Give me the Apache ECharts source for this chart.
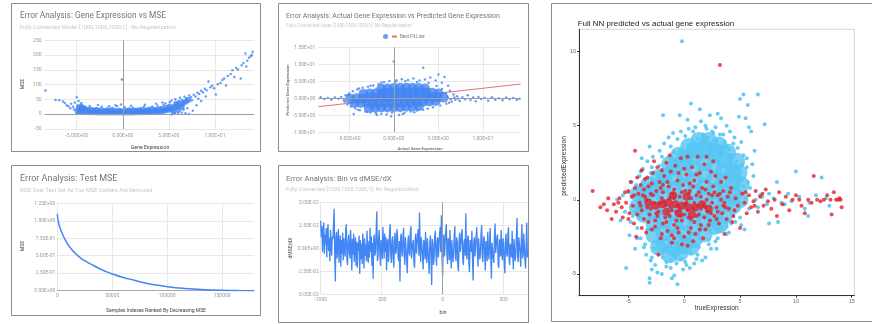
<!DOCTYPE html>
<html>
<head>
<meta charset="utf-8">
<script src="https://cdn.jsdelivr.net/npm/echarts@6/dist/echarts.min.js"></script>
<style>
html, body { margin: 0; padding: 0; background: #fff; }
#main { width: 872px; height: 324px; }
</style>
</head>
<body>
<div id="main"></div>
<script>
var myChart = echarts.init(document.getElementById('main'));

// panel 1: gene expression vs MSE (dense band + scattered points)
var p1Core = [[-4.9,10],[-4.6,9],[-4.3,8],[-4.0,8],[-3.7,7],[-3.4,7],[-3.1,7],[-2.8,6],[-2.5,6],[-2.2,6],[-1.9,6],[-1.6,6],[-1.3,6],[-1.0,6],[-0.7,6],[-0.4,6],[-0.1,6],[0.2,6],[0.5,6],[0.8,6],[1.1,6],[1.4,7],[1.7,7],[2.0,7],[2.3,7],[2.6,8],[2.9,8],[3.2,8],[3.5,9],[3.8,9],[4.1,10],[4.4,11],[4.7,13],[5.0,15],[5.3,18],[5.6,22],[5.9,27],[6.2,32],[6.5,37],[6.8,42],
  [-4.8,20],[-4.5,24],[-4.2,18],[-3.8,15],[-3.3,14],[-2.8,13],[-2.3,13],[-1.8,12],[-1.3,13],[-0.8,12],[-0.3,12],[0.2,12],[0.7,13],[1.2,12],[1.7,13],[2.2,13],[2.7,14],[3.2,15],[3.7,16],[4.2,18],[4.7,21],[5.1,26],[5.5,9],[6.0,14],[5.8,35],[6.4,24],[7.1,48]];
var p1Points = [[-8.4,80],[-7.3,48],[-6.9,47],[-6.5,43],[-6.3,38],[-6.1,30],[-5.9,27],[-5.6,35],[-5.4,25],[-5.2,40],[-5.0,57],[-5.0,2],[-4.9,30],[-4.8,45],[-4.7,22],[-4.6,33],[-4.5,38],[-4.4,28],[-4.2,20],[-4.1,26],[-3.8,18],[-3.5,22],[-3.2,16],[-2.9,20],[-2.6,17],[-2.3,25],[-2.0,15],[-1.7,19],[-1.4,16],[-1.1,21],[-0.8,30],[-0.6,27],[-0.4,15],[-0.1,117],[0.2,24],[0.5,17],[0.8,15],[1.1,22],[1.4,18],[1.7,16],[2.0,21],[2.3,25],[2.6,18],[2.9,22],[3.2,26],[3.5,20],[3.8,29],[4.1,23],[4.4,31],[4.6,36],[4.9,28],[5.1,41],[5.3,46],[5.5,31],[5.7,51],[5.9,39],[6.1,45],[6.2,56],[6.4,48],[6.5,30],[6.7,59],[6.9,53],[7.0,44],[7.2,63],[7.4,57],[7.5,47],[7.7,66],[7.9,60],[8.1,73],[8.3,68],[8.5,79],[8.7,74],[8.9,86],[9.1,81],[9.3,111],[9.5,91],[9.7,96],[9.9,88],[10.1,67],[10.3,101],[10.6,106],[10.8,116],[11.0,121],[11.2,97],[11.4,129],[11.7,136],[11.9,149],[12.1,126],[12.3,156],[12.5,151],[12.8,121],[12.9,166],[13.1,173],[13.3,205],[13.4,161],[13.5,181],[13.7,191],[13.9,196],[14.0,201],[14.1,211],[5.6,4],[6.0,2],[6.4,6],[6.8,3],[7.2,1],[5.3,-1],[7.6,12],[8.0,30],[7.0,20],[6.6,15],[8.5,45],[9.0,60],[8.2,52],[-3.6,28],[-2.7,31],[-1.5,27],[-0.2,33],[0.9,29],[2.4,32],[3.6,35],[4.3,40],[-5.3,16],[-5.7,20]];
var p1XTicks = [-5, 0, 5, 10];

// panel 2: actual vs predicted (Google chart)
var p2Core = [[-2.8,-2.8],[-2.1,-2.8],[-1.4,-2.7],[-0.7,-2.7],[0,-2.6],[0.7,-2.6],[1.4,-2.5],[2.1,-2.4],[2.8,-2.3],
  [-4.4,-1.4],[-3.7,-1.4],[-3,-1.3],[-2.3,-1.3],[-1.6,-1.3],[-0.9,-1.2],[-0.2,-1.2],[0.5,-1.2],[1.2,-1.1],[1.9,-1.1],[2.6,-1.0],[3.3,-1.0],[4,-0.9],[4.7,-0.8],
  [-4.9,-0.1],[-4.2,0],[-3.5,0],[-2.8,0.1],[-2.1,0.1],[-1.4,0.2],[-0.7,0.2],[0,0.2],[0.7,0.3],[1.4,0.3],[2.1,0.3],[2.8,0.4],[3.5,0.4],[4.2,0.4],[4.9,0.3],[5.6,0.2],
  [-3.4,1.3],[-2.7,1.4],[-2,1.5],[-1.3,1.5],[-0.6,1.6],[0.1,1.6],[0.8,1.7],[1.5,1.7],[2.2,1.8],[2.9,1.8],[3.6,1.7],[4.3,1.6],[5.0,1.4],
  [-1.4,2.8],[-0.7,2.9],[0,3.0],[0.7,3.1],[1.4,3.1],[2.1,3.1],[2.8,3.0],[3.5,2.9]];
var p2Points = [[-8.2,0.3],[-7.8,-0.2],[-7.4,0.1],[-7,-0.4],[-6.6,0.2],[-6.2,-0.1],[-5.9,0.4],[-5.6,-0.6],[-5.4,0.9],[-5.2,-1.8],[-5,1.4],[-4.8,-2.4],[-4.6,2.1],[-4.5,-4.6],[-4.3,-3],[-4.1,2.6],[-3.8,-3.5],[-3.5,3.1],[-3.2,-3.9],[-2.9,3.4],[-2.6,-4.2],[-2.3,3.8],[-2,-4.4],[-1.7,4.2],[-1.4,-4.6],[-1.1,4.7],[-0.8,-4.8],[-0.5,5.1],[-0.2,-4.2],[0,10.8],[0.3,5.3],[0.6,-4.9],[0.9,5.6],[1.2,-4.3],[1.6,5.4],[1.9,-3.9],[2.2,5.8],[2.6,-3.6],[2.9,5.2],[3.3,9],[3.5,5.5],[3.8,-3.1],[4.1,6.1],[4.4,-2.6],[4.7,5.2],[5,7],[5.2,-2.1],[5.4,4.6],[5.7,6.3],[5.9,-1.6],[6.1,3.7],[6.3,2.2],[6.5,-1],[6.7,1.1],[6.9,-0.4],[7.1,0.6],[7.4,-0.8],[7.7,0.3],[8,-0.3],[8.3,0.9],[8.6,-0.5],[8.9,0.2],[9.2,-0.9],[9.5,0.4],[9.8,-0.2],[10.2,0.1],[10.6,-0.7],[11,0.3],[11.4,-0.4],[11.8,0],[12.2,-0.6],[12.6,0.2],[13,-0.2],[13.4,0.1],[13.8,-0.4],[14.1,-0.1],[6,0.4],[6.4,-0.3],[6.8,0.2],[7.2,-0.1],[5.8,1.5],[6.2,-1.3],
  [-4.0,-3.4],[-3.0,-4.0],[-1.9,-4.9],[-0.3,-5.3],[1.0,-4.6],[2.3,-4.1],[3.3,-3.4],[-3.9,2.9],[-2.6,3.7],[-1.4,4.6],[0.2,4.9],[1.3,5.1],[2.6,4.8],[3.9,4.5],[4.8,3.6],[5.4,2.7],[-5.5,-1.0],[-5.1,1.0]];
var p2Fit = [[-8.47,-2.47],[14.24,4.2]];

// panel 3: test MSE as outliers are removed
var p3Index = [0, 1000, 2500, 5000, 8500, 12000, 16000, 21000, 27000, 33000, 39000, 45000, 50000, 60000, 70000, 80000, 90000, 100000, 110000, 120000, 135000, 150000, 165000, 179000];
var p3Mse = [1.1, 0.98, 0.9, 0.8, 0.69, 0.61, 0.54, 0.47, 0.41, 0.36, 0.31, 0.27, 0.24, 0.19, 0.15, 0.11, 0.08, 0.057, 0.04, 0.027, 0.014, 0.006, 0.002, 0];
var p3XTicks = [0, 50000, 100000, 150000];

// panel 4: bin vs dMSE/dX
var p4Bins = [-1000,-995,-990,-985,-980,-975,-970,-965,-960,-955,-950,-945,-940,-935,-930,-925,-920,-915,-910,-905,
  -900,-895,-890,-885,-880,-875,-870,-865,-860,-855,-850,-845,-840,-835,-830,-825,-820,-815,-810,-805,
  -800,-795,-790,-785,-780,-775,-770,-765,-760,-755,-750,-745,-740,-735,-730,-725,-720,-715,-710,-705,
  -700,-695,-690,-685,-680,-675,-670,-665,-660,-655,-650,-645,-640,-635,-630,-625,-620,-615,-610,-605,
  -600,-595,-590,-585,-580,-575,-570,-565,-560,-555,-550,-545,-540,-535,-530,-525,-520,-515,-510,-505,
  -500,-495,-490,-485,-480,-475,-470,-465,-460,-455,-450,-445,-440,-435,-430,-425,-420,-415,-410,-405,
  -400,-395,-390,-385,-380,-375,-370,-365,-360,-355,-350,-345,-340,-335,-330,-325,-320,-315,-310,-305,
  -300,-295,-290,-285,-280,-275,-270,-265,-260,-255,-250,-245,-240,-235,-230,-225,-220,-215,-210,-205,
  -200,-195,-190,-185,-180,-175,-170,-165,-160,-155,-150,-145,-140,-135,-130,-125,-120,-115,-110,-105,
  -100,-95,-90,-85,-80,-75,-70,-65,-60,-55,-50,-45,-40,-35,-30,-25,-20,-15,-10,-5,
  0,5,10,15,20,25,30,35,40,45,50,55,60,65,70,75,80,85,90,95,
  100,105,110,115,120,125,130,135,140,145,150,155,160,165,170,175,180,185,190,195,
  200,205,210,215,220,225,230,235,240,245,250,255,260,265,270,275,280,285,290,295,
  300,305,310,315,320,325,330,335,340,345,350,355,360,365,370,375,380,385,390,395,
  400,405,410,415,420,425,430,435,440,445,450,455,460,465,470,475,480,485,490,495,
  500,505,510,515,520,525,530,535,540,545,550,555,560,565,570,575,580,585,590,595,
  600,605,610,615,620,625,630,635,640,645,650,655,660,665,670,675,680,685,690,695,
  700];
var p4Slope = [0.030,0.012,0.024,-0.004,0.018,0.028,-0.006,0.015,0.004,0.022,-0.010,0.016,0.026,-0.003,0.011,-0.014,0.020,0.006,-0.008,0.013,
  0.010,0.025,0.043,-0.005,-0.036,0.012,0.018,-0.011,0.006,0.021,-0.016,0.004,0.014,-0.020,0.009,-0.006,0.017,-0.013,0.011,-0.002,
  -0.009,0.019,0.026,-0.012,-0.018,0.008,0.015,-0.004,-0.011,0.020,0.003,-0.024,0.010,-0.007,0.016,-0.015,0.004,0.012,-0.019,0.007,
  -0.021,0.006,-0.003,0.014,-0.028,0.009,-0.012,0.005,-0.017,0.016,0.002,-0.022,0.011,-0.008,0.004,-0.014,0.019,-0.006,-0.016,0.008,
  -0.010,0.022,-0.004,0.013,-0.019,0.006,-0.033,0.010,0.015,-0.008,-0.003,0.018,0.040,-0.014,-0.009,0.012,0.020,-0.006,-0.019,0.009,
  0.005,-0.012,0.023,0.008,-0.011,0.016,-0.004,0.012,-0.024,0.006,0.010,-0.015,-0.005,0.019,0.026,-0.009,-0.016,0.007,0.013,-0.011,
  -0.021,0.009,0.017,-0.006,-0.002,0.021,0.014,-0.010,-0.014,0.008,-0.036,0.011,0.016,-0.004,-0.009,0.013,0.022,-0.007,-0.018,0.012,
  0.010,-0.013,-0.027,0.007,0.014,-0.005,-0.008,0.018,0.024,-0.011,-0.013,0.006,0.009,-0.017,-0.021,0.010,0.016,-0.006,-0.004,0.015,
  0.021,-0.008,0.039,0.004,-0.015,0.012,0.011,-0.007,-0.023,0.009,0.006,-0.012,0.018,-0.004,-0.016,0.011,0.009,-0.014,-0.028,0.007,
  0.014,-0.006,-0.040,0.010,0.005,-0.018,-0.011,0.013,0.019,-0.005,-0.019,0.008,0.012,-0.010,-0.008,0.016,0.023,-0.004,0.036,-0.012,
  -0.030,0.006,0.015,-0.009,-0.009,0.018,0.026,-0.006,-0.017,0.011,0.008,-0.013,0.020,-0.002,-0.022,0.009,0.011,-0.015,-0.006,0.014,
  0.024,-0.010,-0.014,0.012,0.007,-0.019,-0.025,0.008,0.017,-0.004,-0.003,0.015,0.021,-0.011,-0.018,0.006,0.010,-0.008,0.038,-0.005,
  -0.012,0.010,0.014,-0.016,-0.026,0.009,0.006,-0.004,0.019,-0.013,-0.035,0.007,0.012,-0.009,-0.010,0.014,0.023,-0.006,-0.020,0.011,
  0.009,-0.012,-0.005,0.016,0.025,-0.008,-0.015,0.010,0.013,-0.006,-0.024,0.008,0.005,-0.014,0.018,-0.003,-0.012,0.009,0.022,-0.010,
  -0.033,0.006,0.008,-0.011,-0.016,0.013,0.027,-0.005,-0.007,0.012,0.015,-0.018,-0.021,0.007,0.010,-0.009,0.020,-0.004,-0.013,0.011,
  0.004,-0.016,-0.027,0.008,0.016,-0.006,-0.009,0.014,0.023,-0.012,-0.018,0.005,0.007,-0.010,0.019,-0.007,-0.023,0.010,0.012,-0.014,
  -0.006,0.015,0.033,-0.009,-0.015,0.012,0.011,-0.004,-0.020,0.008,0.026,-0.011,-0.008,0.016,0.014,-0.013,-0.022,0.006,0.028,-0.010,
  -0.004];
var p4XTicks = [-1000, -500, 0, 500];

// panel 5: full NN predicted vs actual (cyan = all genes, red = highlighted)
var p5CyanCore = [[-3.6,-1.0],[-3.6,-0.2],[-3.6,0.4],
  [-2.7,-2.4],[-2.7,-1.6],[-2.7,-0.8],[-2.7,0],[-2.7,0.8],
  [-1.8,-3.0],[-1.8,-2.2],[-1.8,-1.4],[-1.8,-0.6],[-1.8,0.2],[-1.8,1.0],[-1.8,1.6],
  [-0.9,-3.3],[-0.9,-2.5],[-0.9,-1.7],[-0.9,-0.9],[-0.9,-0.1],[-0.9,0.7],[-0.9,1.5],[-0.9,2.2],
  [0,-3.1],[0,-2.3],[0,-1.5],[0,-0.7],[0,0.1],[0,0.9],[0,1.7],[0,2.5],[0,2.8],
  [0.9,-2.7],[0.9,-1.9],[0.9,-1.1],[0.9,-0.3],[0.9,0.5],[0.9,1.3],[0.9,2.1],[0.9,2.9],[0.9,3.3],
  [1.8,-2.3],[1.8,-1.5],[1.8,-0.7],[1.8,0.1],[1.8,0.9],[1.8,1.7],[1.8,2.5],[1.8,3.3],[1.8,3.5],
  [2.7,-1.8],[2.7,-1.0],[2.7,-0.2],[2.7,0.6],[2.7,1.4],[2.7,2.2],[2.7,3.0],[2.7,3.3],
  [3.6,-1.1],[3.6,-0.3],[3.6,0.5],[3.6,1.3],[3.6,2.1],[3.6,2.7],
  [4.4,-0.4],[4.4,0.4],[4.4,1.2],[4.4,1.9],
  [0.4,3.6],[1.3,4.0],[2.2,4.0],[3.1,3.7],[3.9,3.2],[4.7,2.6],[5.1,1.0],[5.0,0.0],[-0.5,3.0],[-1.3,2.4],[-2.3,1.5],[-3.2,1.0],[-1.3,-3.7],[-0.4,-3.6],[-2.3,-3.2],[0.6,-3.2],[4.9,1.8],[3.2,-1.7],[-4.2,-0.5],[-4.1,0.4]];
var p5Cyan = [[-4.6,0.2],[-4.4,-0.8],[-4.3,1.0],[-4.2,-1.9],[-4.0,1.6],[-3.9,-2.6],[-3.7,2.1],[-3.6,-3.2],[-3.4,-3.7],[-3.3,2.6],[-3.1,3.6],[-3.0,-4.1],[-2.8,2.9],[-2.6,-4.4],[-2.4,-4.9],[-2.2,3.3],[-2.0,-5.0],[-1.9,5.7],[-1.8,3.8],[-1.6,-4.5],[-1.4,4.2],[-1.2,-4.6],[-1.0,4.5],[-0.9,-5.1],[-0.7,-4.3],[-0.6,-5.7],[-0.4,5.7],[-0.3,4.6],[-0.2,10.7],[0.1,-4.2],[0.3,5.4],[0.4,4.8],[0.6,6.5],[0.9,-4.3],[1.0,4.9],[1.2,-3.7],[1.4,6.1],[1.5,5.3],[1.9,-3.9],[2.0,4.8],[2.3,5.7],[2.4,-3.3],[2.6,4.5],[2.8,-2.8],[3.0,5.8],[3.2,4.4],[3.3,5.5],[3.4,-1.9],[3.6,3.9],[3.8,-2.3],[4.0,3.4],[4.2,-1.6],[4.4,3.0],[4.6,-1.5],[4.7,2.6],[4.9,5.6],[5.0,6.8],[5.1,3.9],[5.1,-1.7],[5.2,1.4],[5.3,7.1],[5.4,-2.0],[5.5,5.5],[5.6,2.2],[5.7,6.4],[5.8,4.9],[5.9,0.8],[6.0,4.6],[6.2,1.6],[6.4,0.0],[6.6,7.1],[6.6,-0.5],[6.8,0.3],[7.0,0.2],[7.2,5.1],[7.4,-0.3],[7.6,0.4],[7.6,-1.6],[8.0,0.1],[8.3,1.2],[8.4,-1.5],[8.7,-0.2],[9.0,-0.3],[9.3,0.4],[9.6,-0.1],[10.0,1.9],[10.3,0.2],[10.8,-0.6],[11.1,-1.1],[11.2,-0.2],[11.8,0.3],[12.3,1.5],[12.7,0.1],[13.0,-0.4],[-5.2,-4.6],[-3.1,-5.3],[-3.1,-5.6],[-5.3,-0.8],[-5.7,-1.4],[-4.8,-1.5],[-4.4,-3.3],[-4.7,1.2],[-3.8,2.8],[-5.0,0.5],[-6.0,0.0],[-5.5,0.3],[-4.9,-2.4],[-1.1,-5.3],[-2.9,-4.7],[0.5,-4.6],[1.6,-4.1],[4.5,4.2],[4.8,3.5],[5.3,3.0],[4.1,4.6],[3.8,5.0],[5.6,2.8],[6.1,2.4],[6.3,3.3],[3.0,-2.6],[3.8,-1.8],[4.4,-1.1],[2.2,-3.0],
  [-4.3,-0.5],[-4.1,0.3],[-4.0,-1.2],[-3.6,1.2],[-3.3,-2.0],[-3.0,1.8],[-2.7,-3.3],[-2.2,2.3],[-1.9,-3.9],[-1.3,2.8],[-1.2,-4.1],[-0.4,3.3],[-0.3,-4.0],[0.4,3.7],[0.6,-3.6],[1.2,4.1],[1.3,-3.2],[2.1,4.2],[2.2,-2.7],[2.9,4.0],[3.1,-2.1],[3.4,3.6],[3.9,-1.4],[4.1,3.0],[4.6,-0.8],[4.8,2.2],[5.0,0.5],[5.0,1.5],[4.9,-0.2],[-3.9,1.9],[-2.4,-3.6],[0.2,-4.4],[2.5,4.6],[1.7,4.4],[-0.9,3.2],[-1.6,-4.2],[3.9,3.5],[4.3,2.9],[5.3,0.9],[5.5,0.1],
  [-1.2,3.6],[-0.6,4.1],[0.1,4.3],[0.8,4.6],[1.9,5.0],[2.8,4.9],[3.5,4.4],[4.4,3.8],[5.2,2.4],[5.7,1.2],[5.8,-0.6],[-2.0,2.9],[-2.9,2.2],[-4.6,-1.1],[-4.2,-2.6],[-3.5,-3.0],[-2.9,-3.9],[-0.1,-4.7],[1.1,-4.0],[2.9,-3.3],[4.0,-2.2],[5.0,-1.2]];
var p5RedCore = [[-2.6,-0.4],[-2.0,-0.3],[-1.4,-0.2],[-0.8,-0.3],[-0.2,-0.4],[0.4,-0.5],[1.0,-0.5],[1.6,-0.3],[-1.6,-0.8],[-0.5,-0.9],[0.7,-1.0],[-1.0,0.3],[0.2,0.2],[2.2,-0.6],[-3.2,-0.2]];
var p5Red = [[-8.2,0.6],[-7.5,-0.5],[-7.2,-0.3],[-6.8,0.1],[-6.5,-1.3],[-6.3,-0.3],[-6.1,-0.8],[-5.8,0.1],[-5.6,-0.5],[-5.5,-1.2],[-5.3,0.5],[-5.2,-0.2],[-5,0.6],[-4.9,-0.9],[-4.8,1.2],[-4.7,0.2],[-4.6,-0.4],[-4.5,-1.6],[-4.4,3.3],[-4.4,0.8],[-4.3,-2.5],[-4.2,1.5],[-4.1,0.4],[-4,-0.2],[-3.9,1],[-3.8,-0.7],[-3.7,0.3],[-3.6,-1.3],[-3.5,1.4],[-3.4,0],[-3.3,-0.5],[-3.2,0.9],[-3.1,-1],[-3,0.4],[-2.9,-2],[-2.8,1.8],[-2.7,-0.2],[-2.6,-1.4],[-2.5,0.6],[-2.4,2.2],[-2.3,-3.7],[-2.3,-0.8],[-2.2,1.2],[-2.1,-2.6],[-2,0.1],[-1.9,-1.6],[-1.8,1.6],[-1.7,-0.4],[-1.6,2.5],[-1.5,-2.1],[-1.4,0.9],[-1.3,-1.1],[-1.2,1.9],[-1.1,-2.4],[-1,0.4],[-0.9,-1.7],[-0.8,2.3],[-0.7,-0.8],[-0.6,1.3],[-0.5,-2.2],[-0.4,0.2],[-0.3,2.8],[-0.2,-1.4],[-0.1,1],[0,-2.5],[0.1,-0.3],[0.2,1.7],[0.3,-3.1],[0.3,2.9],[0.4,-1.2],[0.5,0.6],[0.6,-1.9],[0.7,2.2],[0.8,-0.6],[0.9,1.3],[1,-2.3],[1.1,0.3],[1.2,2.9],[1.3,-1],[1.4,1.8],[1.5,-1.7],[1.6,0.8],[1.7,-0.3],[1.8,2.4],[1.9,-2],[2,1.2],[2.1,-0.8],[2.2,0.4],[2.3,-1.4],[2.4,1.9],[2.5,-0.2],[2.6,0.9],[2.7,-1.1],[2.8,1.6],[2.9,-0.5],[3,0.3],[3.1,-1.6],[3.2,9.1],[3.3,1.2],[3.4,-0.9],[3.5,0.6],[3.6,-0.2],[3.7,1.5],[3.8,-1.3],[3.9,0.2],[4,-0.6],[4.2,0.8],[4.4,-1.1],[4.6,0.1],[4.8,-0.4],[5,-1.9],[5.2,0.4],[5.4,-0.2],[5.6,-0.9],[5.8,0.3],[6,-0.5],[6.2,-0.1],[6.4,0.6],[6.6,-0.8],[6.8,0.2],[7.1,-0.4],[7.3,0.7],[7.5,-0.1],[7.8,-0.6],[8.1,0],[8.3,-1.1],[8.5,0.5],[8.8,-0.3],[9.1,0.2],[9.4,-0.7],[9.7,0],[10,0.3],[10.3,0],[10.5,-0.4],[10.8,-0.9],[11.1,0],[11.4,-0.2],[11.6,1.6],[11.9,0],[12.2,-0.1],[12.5,0],[12.8,0.3],[13.1,0],[13.2,-1],[13.4,0.5],[13.6,0],[13.8,0],[14,0],[14.1,-0.5],[13.9,0.1],
  [-3.9,-0.4],[-3.5,0.2],[-3.0,-0.6],[-2.8,0.3],[-2.4,-1.1],[-2.2,-0.2],[-1.9,0.5],[-1.7,-1.2],[-1.3,0.1],[-1.1,-0.7],[-0.9,0.7],[-0.7,-1.4],[-0.4,-0.6],[-0.2,0.5],[0.0,-1.0],[0.2,-0.2],[0.4,0.4],[0.6,-1.3],[0.9,-0.2],[1.1,-1.1],[1.3,0.5],[1.5,-0.6],[1.8,-1.2],[2.0,0.0],[2.4,-0.9],[2.7,0.5],[3.0,-0.8],[3.3,0.0],[3.7,-0.5],[4.1,0.5],[-2.6,-1.8],[-1.5,1.2],[-0.6,-1.9],[0.5,1.1],[1.4,-2.0],[-3.3,1.5],[2.6,2.6],[-2.0,2.0],[0.0,2.1],[1.1,1.7],[-4.5,0.3],[-5.9,-0.2],[-6.9,-0.7],[-5.0,-1.3],[4.5,-0.7],[5.5,0.5],[6.3,-0.4],[7.0,0.4],[3.6,-2.3],[-1.1,-2.9],[0.8,-2.8],[-3.8,-1.9],[-0.2,-3.0],
  [-3.6,0.7],[-3.2,-1.5],[-2.9,1.1],[-2.5,-0.9],[-2.1,0.8],[-1.8,-0.1],[-1.6,-1.5],[-1.2,-0.5],[-0.9,0.1],[-0.6,-0.4],[-0.3,-1.1],[0.1,0.6],[0.3,-0.7],[0.6,0.1],[0.9,-1.5],[1.2,-0.4],[1.5,0.2],[1.9,-0.5],[2.2,-1.7],[2.5,0.3],[2.9,-1.3],[3.2,0.4],[3.5,-0.4],[-4.2,-1.0],[-3.4,-2.2],[-2.0,-2.3],[-0.9,-2.6],[0.4,-2.2],[1.7,-2.6],[-1.9,1.0],[-0.5,1.8],[0.8,0.9],[1.9,0.7],[-2.7,2.6],[-3.8,2.0],[4.3,-1.5],[2.0,2.9],[-1.3,3.0]];
var p5XTicks = [-5, 0, 5, 10, 15];
var p5YTicks = [-5, 0, 5, 10];

// 1.00E+01 style labels like google charts
function sci(v) {
    var parts = Number(v).toExponential(2).split('e');
    var e = parseInt(parts[1], 10);
    return parts[0] + 'E' + (e < 0 ? '-' : '+') + (Math.abs(e) < 10 ? '0' : '') + Math.abs(e);
}
function plain(v) { return String(v); }

var gFont = 'Roboto';
var tickText = { fontFamily: gFont, fontSize: 5, color: '#9a9a9a' };
var blue = '#4285f4';
var cyan = '#55c6f2';
var red = '#e3202b';

function gAxis(idx, min, max, opts) {
    var a = {
        gridIndex: idx, type: 'value', min: min, max: max,
        axisLine: { show: false },
        axisTick: { show: false },
        axisLabel: Object.assign({ margin: 4, formatter: plain }, tickText),
        splitLine: { show: true, lineStyle: { color: '#e8e8e8', width: 1 } }
    };
    if (opts.interval) a.interval = opts.interval;
    if (opts.ticks) {
        a.axisTick.customValues = opts.ticks;
        a.axisLabel.customValues = opts.ticks;
    }
    if (opts.formatter) a.axisLabel.formatter = opts.formatter;
    if (opts.margin != null) a.axisLabel.margin = opts.margin;
    if (opts.line) a.axisLine = { show: true, onZero: false, lineStyle: { color: opts.line, width: 1 } };
    return a;
}

function zeroMark(list) {
    return {
        silent: true, symbol: ['none', 'none'], label: { show: false },
        lineStyle: { color: '#9e9e9e', width: 1, type: 'solid' },
        emphasis: { disabled: true },
        data: list
    };
}

function txt(x, y, s, font, color, extra) {
    var t = { type: 'text', x: x, y: y, silent: true,
        style: { text: s, font: font, fill: color, align: 'left', verticalAlign: 'middle' } };
    if (extra) {
        if (extra.align) t.style.align = extra.align;
        if (extra.rotate) t.rotation = Math.PI / 2;
    }
    return t;
}
function box(x1, y1, x2, y2) {
    return { type: 'rect', silent: true, shape: { x: x1, y: y1, width: x2 - x1, height: y2 - y1 },
        style: { fill: 'none', stroke: '#8c8c8c', lineWidth: 1 } };
}

var p5Axis = {
    axisLine: { show: true, onZero: false, lineStyle: { color: '#333', width: 1 } },
    tick: { show: true, length: 2, lineStyle: { color: '#333' } },
    label: { margin: 3, fontFamily: 'Liberation Sans', fontSize: 5.5, color: '#666', formatter: plain }
};

option = {
    animation: false,
    backgroundColor: '#fff',
    grid: [
        { left: 44.5, top: 40.3, width: 209.5, height: 88.7 },
        { left: 318.3, top: 47.3, width: 202.4, height: 85 },
        { left: 57.3, top: 203.3, width: 196.7, height: 87.4 },
        { left: 320.7, top: 202.3, width: 207.3, height: 92 },
        { left: 579, top: 29.3, width: 275.3, height: 266.4, show: true, borderColor: '#d6d6d6', borderWidth: 1 }
    ],
    legend: {
        left: 383, top: 34, padding: 0, itemWidth: 5, itemHeight: 5, itemGap: 3,
        selectedMode: false,
        textStyle: { fontFamily: gFont, fontSize: 4.5, color: '#757575', padding: [0, 0, 0, -2] },
        data: [
            { name: 'Predicted', icon: 'circle' },
            { name: 'Best Fit Line', itemStyle: { color: 'rgba(0,0,0,0)', opacity: 0 } }
        ],
        formatter: function (n) { return n === 'Predicted' ? '' : n; }
    },
    xAxis: [
        gAxis(0, -8.5, 14.24, { ticks: p1XTicks, formatter: sci, margin: 4 }),
        gAxis(1, -8.47, 14.24, { ticks: p1XTicks, formatter: sci, margin: 4 }),
        gAxis(2, 0, 179000, { ticks: p3XTicks, margin: 3, line: '#a8a8a8' }),
        gAxis(3, -1000, 700, { ticks: p4XTicks, margin: 3 }),
        {
            gridIndex: 4, type: 'value', min: -9.42, max: 15.23,
            axisLine: p5Axis.axisLine,
            axisTick: Object.assign({ customValues: p5XTicks }, p5Axis.tick),
            axisLabel: Object.assign({ customValues: p5XTicks }, p5Axis.label),
            splitLine: { show: false }
        }
    ],
    yAxis: [
        gAxis(0, -50, 250, { interval: 50, margin: 3 }),
        gAxis(1, -10, 15, { interval: 5, formatter: sci, margin: 3 }),
        gAxis(2, 0, 1.25, { interval: 0.25, formatter: sci, margin: 2 }),
        gAxis(3, -0.05, 0.05, { interval: 0.025, formatter: sci, margin: 2 }),
        {
            gridIndex: 4, type: 'value', min: -6.47, max: 11.5,
            axisLine: p5Axis.axisLine,
            axisTick: Object.assign({ customValues: p5YTicks }, p5Axis.tick),
            axisLabel: Object.assign({ customValues: p5YTicks }, p5Axis.label),
            splitLine: { show: false }
        }
    ],
    series: [
        { type: 'line', xAxisIndex: 0, yAxisIndex: 0, data: [], z: 1, silent: true,
          markLine: zeroMark([{ xAxis: 0 }, { yAxis: 0 }]) },
        { type: 'scatter', xAxisIndex: 0, yAxisIndex: 0, data: p1Core, symbolSize: 6, itemStyle: { color: blue }, silent: true },
        { type: 'scatter', xAxisIndex: 0, yAxisIndex: 0, data: p1Points, symbolSize: 2.5, itemStyle: { color: blue }, silent: true },

        { type: 'line', name: 'Best Fit Line', xAxisIndex: 1, yAxisIndex: 1, data: p2Fit, symbol: 'none', z: 1, silent: true,
          lineStyle: { color: '#e57373', width: 1 }, itemStyle: { color: '#e57373' },
          markLine: zeroMark([{ xAxis: 0 }, { yAxis: 0 }]) },
        { type: 'scatter', name: 'Predicted', xAxisIndex: 1, yAxisIndex: 1, data: p2Core, symbolSize: 10, itemStyle: { color: blue }, silent: true },
        { type: 'scatter', name: 'Predicted', xAxisIndex: 1, yAxisIndex: 1, data: p2Points, symbolSize: 2.5, itemStyle: { color: blue }, silent: true },

        { type: 'line', xAxisIndex: 2, yAxisIndex: 2, smooth: true, symbol: 'none', silent: true,
          data: p3Index.map(function (v, i) { return [v, p3Mse[i]]; }),
          lineStyle: { color: blue, width: 1.5 } },

        { type: 'line', xAxisIndex: 3, yAxisIndex: 3, data: [], z: 1, silent: true,
          markLine: zeroMark([{ xAxis: 0 }]) },
        { type: 'line', xAxisIndex: 3, yAxisIndex: 3, symbol: 'none', silent: true,
          data: p4Bins.map(function (v, i) { return [v, p4Slope[i]]; }),
          lineStyle: { color: blue, width: 1.3 } },

        { type: 'scatter', xAxisIndex: 4, yAxisIndex: 4, data: p5CyanCore, symbolSize: 17, itemStyle: { color: cyan }, silent: true },
        { type: 'scatter', xAxisIndex: 4, yAxisIndex: 4, data: p5Cyan, symbolSize: 4, itemStyle: { color: cyan, opacity: 0.9 }, silent: true },
        { type: 'scatter', xAxisIndex: 4, yAxisIndex: 4, data: p5RedCore, symbolSize: 8, itemStyle: { color: red }, silent: true, z: 3 },
        { type: 'scatter', xAxisIndex: 4, yAxisIndex: 4, data: p5Red, symbolSize: 4, itemStyle: { color: red }, silent: true, z: 3 }
    ],
    graphic: [
        box(11.5, 3.5, 260.5, 151.5),
        box(278.5, 3.5, 528.5, 151.5),
        box(11.5, 165.5, 260.5, 315.5),
        box(278.5, 165.5, 528.5, 322.5),
        box(551.5, 3.5, 890, 321.5),

        txt(20, 16, 'Error Analysis: Gene Expression vs MSE', '8.3px Roboto', '#757575'),
        txt(20, 28, 'Fully Connected Model [1000,1000,1000,1] : No Regularization', '5.7px Roboto', '#c8c8c8'),
        txt(150, 148, 'Gene Expression', '5.2px Roboto', '#444', { align: 'center' }),
        txt(23, 84, 'MSE', '5.2px Roboto', '#444', { align: 'center', rotate: true }),

        txt(286, 16, 'Error Analysis: Actual Gene Expression vs Predicted Gene Expression', '7px Roboto', '#757575'),
        txt(286, 26, 'Fully Connected Layer [1000,1000,1000,1]: No Regularization', '4.7px Roboto', '#c8c8c8'),
        txt(420, 149, 'Actual Gene Expression', '4.3px Roboto', '#444', { align: 'center' }),
        txt(288, 90, 'Predicted Gene Expression', '4.3px Roboto', '#444', { align: 'center', rotate: true }),

        txt(20, 179, 'Error Analysis: Test MSE', '9px Roboto', '#757575'),
        txt(20, 190.7, 'MSE Over Test Set As Top MSE Outliers Are Removed', '5.6px Roboto', '#c8c8c8'),
        txt(156, 310.7, 'Samples Indexes Ranked By Decreasing MSE', '5px Roboto', '#444', { align: 'center' }),
        txt(23, 246, 'MSE', '5.2px Roboto', '#444', { align: 'center', rotate: true }),

        txt(286, 179, 'Error Analysis: Bin vs dMSE/dX', '7.7px Roboto', '#757575'),
        txt(286, 190, 'Fully Connected [1000,1000,1000,1]: No Regularization', '5.5px Roboto', '#c8c8c8'),
        txt(443, 312.7, 'bin', '5px Roboto', '#444', { align: 'center' }),
        txt(290.7, 248, 'dMSE/dX', '5px Roboto', '#444', { align: 'center', rotate: true }),

        txt(577.7, 23.3, 'Full NN predicted vs actual gene expression', '8px "Liberation Sans"', '#222'),
        txt(716.7, 308.3, 'trueExpression', '6.6px "Liberation Sans"', '#333', { align: 'center' }),
        txt(564, 166, 'predictedExpression', '6.6px "Liberation Sans"', '#333', { align: 'center', rotate: true })
    ]
};

myChart.setOption(option);
</script>
</body>
</html>
